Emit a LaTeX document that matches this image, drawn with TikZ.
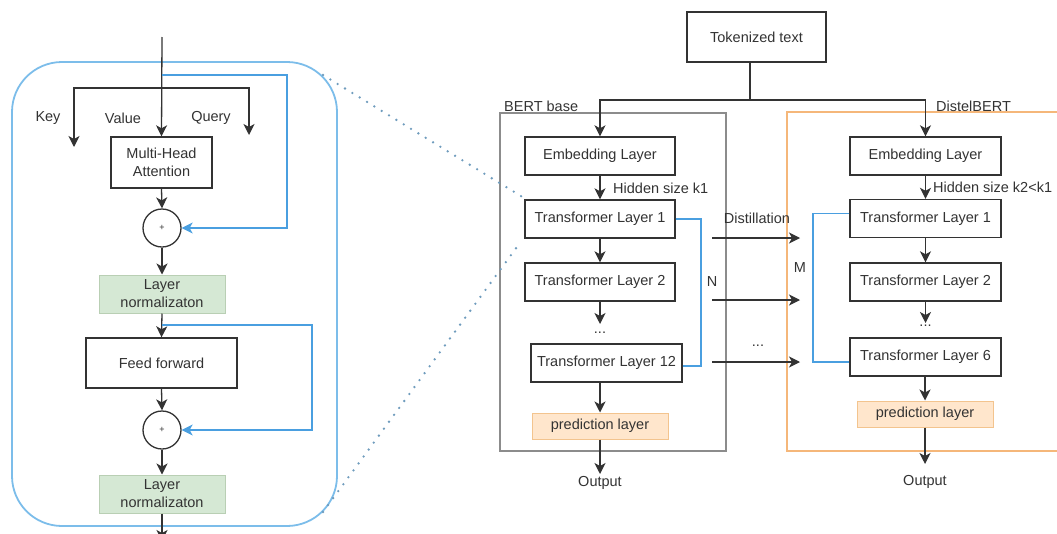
\documentclass[tikz,border=0pt]{standalone}
\usepackage{fontspec}
\setmainfont{Liberation Sans}
\usetikzlibrary{arrows.meta,calc}
\definecolor{ink}{HTML}{333333}
\definecolor{resblue}{HTML}{4A9FE0}
\definecolor{frameblue}{HTML}{7CBDEA}
\definecolor{dotblue}{HTML}{6F9CBD}
\definecolor{lngreen}{HTML}{D5E8D4}
\definecolor{lnedge}{HTML}{B9CFB4}
\definecolor{predfill}{HTML}{FFE6CC}
\definecolor{prededge}{HTML}{F3C48E}
\definecolor{bertgray}{HTML}{8C8C8C}
\definecolor{distorange}{HTML}{F5B77A}
\begin{document}
\begin{tikzpicture}[x=1pt,y=-1pt,
  every node/.style={text=ink, font=\fontsize{14.5}{18}\selectfont},
  blk/.style={draw=ink, line width=1.4pt, fill=white, inner sep=0pt, align=center, minimum height=38pt},
  lnbox/.style={draw=lnedge, line width=1pt, fill=lngreen, inner sep=0pt, align=center, minimum width=126pt, minimum height=38pt},
  predbox/.style={draw=prededge, line width=1pt, fill=predfill, inner sep=0pt, align=center, minimum width=136pt, minimum height=26pt},
  sumnode/.style={circle, draw=ink, line width=1.3pt, fill=white, minimum size=38pt, inner sep=0pt, font=\fontsize{9}{9}\selectfont},
  lbl/.style={inner sep=0pt},
  tip/.style={-{Stealth[length=11pt,width=11pt,inset=3pt]}},
  arr/.style={draw=ink, line width=1.3pt, tip},
  wire/.style={draw=ink, line width=1.3pt},
  res/.style={draw=resblue, line width=1.2pt, -{Stealth[length=11pt,width=11pt,inset=3pt]}},
  bracket/.style={draw=resblue, line width=1.2pt},
  zoomdots/.style={draw=dotblue, line width=2.6pt, line cap=round, dash pattern=on 0pt off 8.6pt}
]
\useasboundingbox (0,0) rectangle (1057,533);
\clip (0,0) rectangle (1057,533);

% ---------------- encoder block (left) ----------------
\draw[frameblue, line width=1.8pt, rounded corners=50pt] (12,62) rectangle (337,526);

\node[blk, minimum width=101pt, minimum height=51pt] (mha) at (161.5,162.5) {Multi-Head\\Attention};
\node[sumnode] (sum1) at (162,228) {+};
\node[lnbox] (ln1) at (162,294) {Layer\\normalizaton};
\node[blk, minimum width=151pt, minimum height=50pt] (ff) at (161.5,363) {Feed forward};
\node[sumnode] (sum2) at (162,430) {+};
\node[lnbox] (ln2) at (162,494) {Layer\\normalizaton};

\coordinate (in) at (162,37);
\coordinate (split) at (162,88);
\coordinate (keyEnd) at (74,147);
\coordinate (queryEnd) at (249,135);
\coordinate (out) at (162,541);

\node[lbl] (key) at (48,118) {Key};
\node[lbl] (value) at (123,118) {Value};
\node[lbl] (query) at (211,118) {Query};

\draw[arr] (in) -- (mha.north);
\draw[arr] (split) -| (keyEnd);
\draw[arr] (split) -| (queryEnd);
\draw[arr] (mha.south) -- (sum1.north);
\draw[arr] (sum1.south) -- (ln1.north);
\draw[arr] (ln1.south) -- (ff.north);
\draw[arr] (ff.south) -- (sum2.north);
\draw[arr] (sum2.south) -- (ln2.north);
\draw[arr] (ln2.south) -- (out);

% residual connections
\coordinate (r1a) at (162,75);
\coordinate (r1b) at (287,75);
\coordinate (r2a) at (162,325);
\coordinate (r2b) at (312,325);
\draw[res] (r1a) -- (r1b) |- (sum1.east);
\draw[res] (r2a) -- (r2b) |- (sum2.east);

% ---------------- BERT base ----------------
\node[blk, minimum width=139pt, minimum height=50pt] (tok) at (756.5,37) {Tokenized text};

\draw[bertgray, line width=1.3pt] (500,113) rectangle (726,451);
\node[lbl, anchor=west] (bertlbl) at (504,106) {BERT base};

\node[blk, minimum width=150pt] (bEmb) at (600,156) {Embedding Layer};
\node[blk, minimum width=150pt] (bTL1) at (600,219) {Transformer Layer 1};
\node[blk, minimum width=150pt] (bTL2) at (600,282) {Transformer Layer 2};
\node[lbl] (bdots) at (600,333) {...};
\node[blk, minimum width=151pt] (bTL12) at (606.5,363) {Transformer Layer 12};
\node[predbox] (bpred) at (600,426) {prediction layer};
\node[lbl] (bout) at (600,483) {Output};
\node[lbl, anchor=west] (bk1) at (613,188) {Hidden size k1};

% ---------------- DistelBERT ----------------
\draw[distorange, line width=1.5pt] (1070,112) -- (787,112) -- (787,451) -- (1070,451);
\node[lbl, anchor=west] (distlbl) at (936,106) {DistelBERT};

\node[blk, minimum width=151pt] (dEmb) at (925.5,156) {Embedding Layer};
\node[blk, minimum width=151pt] (dTL1) at (925.5,218.5) {Transformer Layer 1};
\node[blk, minimum width=151pt] (dTL2) at (925.5,282) {Transformer Layer 2};
\node[lbl] (ddots) at (925.5,326) {...};
\node[blk, minimum width=151pt] (dTL6) at (925.5,357) {Transformer Layer 6};
\node[predbox] (dpred) at (925,414) {prediction layer};
\node[lbl] (dout) at (925,482) {Output};
\node[lbl, anchor=west] (dk) at (933,187) {Hidden size k2<k1};

% input fan-out
\coordinate (fan) at (750,100);
\draw[wire] (tok.south -| fan) -- (fan);
\draw[arr] (fan) -| (bEmb.north);
\draw[arr] (fan) -| (dEmb.north);

% BERT stack
\draw[arr] (bEmb) -- (bTL1);
\draw[arr] (bTL1) -- (bTL2);
\coordinate (bdotsTop) at (600,324);
\draw[arr] (bTL2.south) -- (bdotsTop);
\draw[arr] (bpred.north |- bTL12.south) -- (bpred.north);
\coordinate (boutTop) at (600,474);
\draw[arr] (bpred.south) -- (boutTop);

% DistelBERT stack
\draw[arr] (dEmb) -- (dTL1);
\draw[arr] (dTL1) -- (dTL2);
\coordinate (ddotsTop) at (925.5,323);
\draw[arr] (dTL2.south) -- (ddotsTop);
\draw[arr] (dTL6.south -| dpred.north) -- (dpred.north);
\coordinate (doutTop) at (925,464);
\draw[arr] (dpred.south) -- (doutTop);

% layer groups
\coordinate (nx) at (701,0);
\draw[bracket] (bTL1.east) -- (bTL1.east -| nx) |- ([yshift=-3pt]bTL12.east);
\coordinate (mx) at (813,0);
\draw[bracket] ([yshift=5pt]dTL1.west) -- ([yshift=5pt]dTL1.west -| mx) |- ([yshift=-5pt]dTL6.west);
\node[lbl] (nlbl) at (712,282) {N};
\node[lbl] (mlbl) at (800,268) {M};

% distillation links
\coordinate (d1a) at (712,238);
\coordinate (d1b) at (800,238);
\coordinate (d2a) at (712,300);
\coordinate (d2b) at (800,300);
\coordinate (d3a) at (712,362);
\coordinate (d3b) at (800,362);
\draw[arr] (d1a) -- (d1b);
\draw[arr] (d2a) -- (d2b);
\draw[arr] (d3a) -- (d3b);
\node[lbl] (distil) at (757,218) {Distillation};
\node[lbl] (ldots) at (758,346) {...};

% zoom guides from the encoder block to the first transformer layer
\coordinate (zTop) at (323,75);
\coordinate (zBot) at (323,512);
\draw[zoomdots] (zTop) -- ([xshift=-3pt,yshift=3pt]bTL1.north west);
\draw[zoomdots] (zBot) -- ([xshift=-5pt,yshift=-5pt]bTL1.south west);
\end{tikzpicture}
\end{document}
